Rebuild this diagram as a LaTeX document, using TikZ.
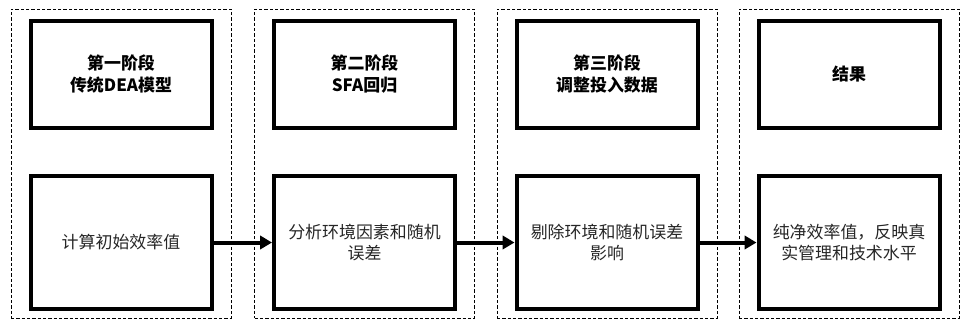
\documentclass[tikz,border=0pt]{standalone}
\usepackage{fontspec}
\setmainfont{Noto Sans CJK SC}
\usetikzlibrary{arrows.meta}

\begin{document}
\begin{tikzpicture}[
  x=0.75pt,y=-0.75pt,
  font=\fontsize{12.7}{15.5}\selectfont,
  col/.style={draw,dash pattern=on 2.5pt off 1.5pt,line width=0.6pt,minimum width=165pt,minimum height=231.75pt,inner sep=0pt},
  box/.style={draw,line width=3pt,minimum width=135.75pt,align=center,inner sep=2pt},
  stage/.style={box,minimum height=80.25pt,font=\fontsize{12.7}{16.5}\selectfont\bfseries},
  op/.style={box,minimum height=99.75pt,text=black!85},
  a/.style={-{Triangle[length=9pt,width=10pt]},line width=3pt}
]
\useasboundingbox (0,0) rectangle (972,330);

% columns
\foreach \i/\x in {1/121,2/364.5,3/607,4/849}
  \node[col] (col\i) at (\x,163.5) {};

% stages
\node[stage] (st1) at (121,74)   {第一阶段\\传统DEA模型};
\node[stage] (st2) at (364.5,74) {第二阶段\\SFA回归};
\node[stage] (st3) at (607,74)   {第三阶段\\调整投入数据};
\node[stage] (st4) at (849,74)   {结果};

% steps
\node[op] (op1) at (121,242.5)   {计算初始效率值};
\node[op] (op2) at (364.5,242.5) {分析环境因素和随机\\误差};
\node[op] (op3) at (607,242.5)   {剔除环境和随机误差\\影响};
\node[op] (op4) at (849,242.5)   {纯净效率值，反映真\\实管理和技术水平};

\foreach \s/\t in {op1/op2,op2/op3,op3/op4} \draw[a] (\s) -- (\t);
\end{tikzpicture}
\end{document}
